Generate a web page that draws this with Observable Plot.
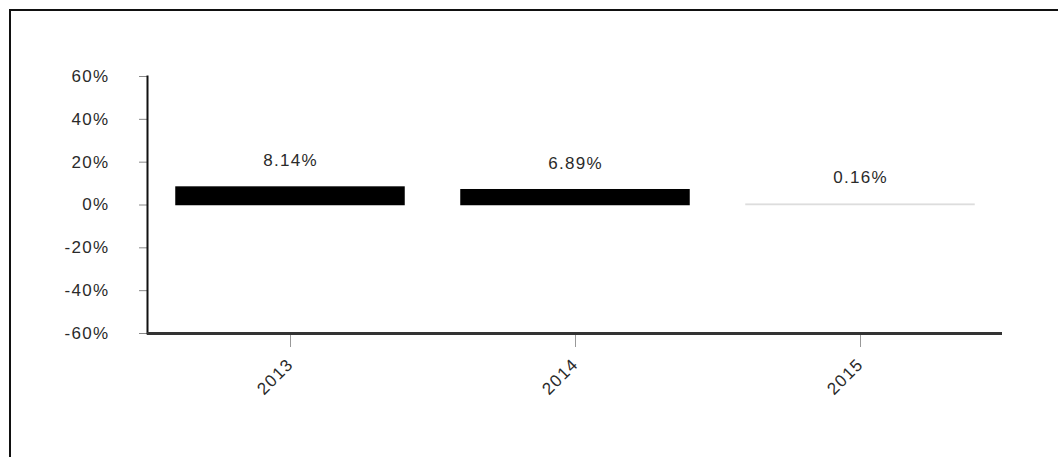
<!DOCTYPE html>
<html>
<head>
<meta charset="utf-8">
<script src="https://cdn.jsdelivr.net/npm/d3@7"></script>
<script src="https://cdn.jsdelivr.net/npm/@observablehq/plot@0.6"></script>
<style>
  html, body { margin: 0; padding: 0; background: #fff; width: 1058px; height: 457px; overflow: hidden; }
  #wrap { position: relative; width: 1058px; height: 457px; }
  #frame { position: absolute; left: 9px; top: 9px; width: 1100px; height: 500px; border-top: 2px solid #111; border-left: 2px solid #111; box-sizing: border-box; }
  #chart { position: absolute; left: 0; top: 0; }
  #chart text { letter-spacing: 1.3px; }
</style>
</head>
<body>
<div id="wrap"><div id="frame"></div><div id="chart"></div></div>
<script>
const years = ["2013", "2014", "2015"];
const values = [0.0814, 0.0689, 0.0016];
const barColors = ["#000000", "#000000", "#dddddd"];
const yTicks = [-0.6, -0.4, -0.2, 0, 0.2, 0.4, 0.6];

const data = years.map((y, i) => ({year: y, value: values[i], color: barColors[i]}));

const chart = Plot.plot({
  width: 1058,
  height: 457,
  marginLeft: 147,
  marginRight: 56,
  marginTop: 76,
  marginBottom: 124,
  style: {fontFamily: "'Liberation Sans', Arial, sans-serif", fontSize: "17px", color: "#2a2a2a", background: "transparent"},
  x: {domain: years, paddingInner: 0.2, paddingOuter: 0.1},
  y: {domain: [-0.6, 0.6]},
  marks: [
    Plot.barY(data, {x: "year", y: "value", fill: "color", stroke: "color", strokeWidth: 1.5}),
    Plot.text(data, {x: "year", y: "value", text: d => (d.value * 100).toFixed(2) + "%", dy: -27, fill: "#2a2a2a", fontSize: 17}),
    Plot.axisY({ticks: yTicks, tickFormat: d => Math.round(d * 100) + "%", tickSize: 8, tickPadding: 30, stroke: "#888", fill: "#2a2a2a", label: null, fontSize: 17}),
    Plot.axisX({tickSize: 14, tickPadding: 14, tickRotate: -45, stroke: "#999", fill: "#2a2a2a", label: null, fontSize: 17}),
    Plot.frame({anchor: "left", stroke: "#111", strokeWidth: 2}),
    Plot.ruleY([-0.6], {stroke: "#333", strokeWidth: 3})
  ]
});
document.getElementById("chart").appendChild(chart);
</script>
</body>
</html>
